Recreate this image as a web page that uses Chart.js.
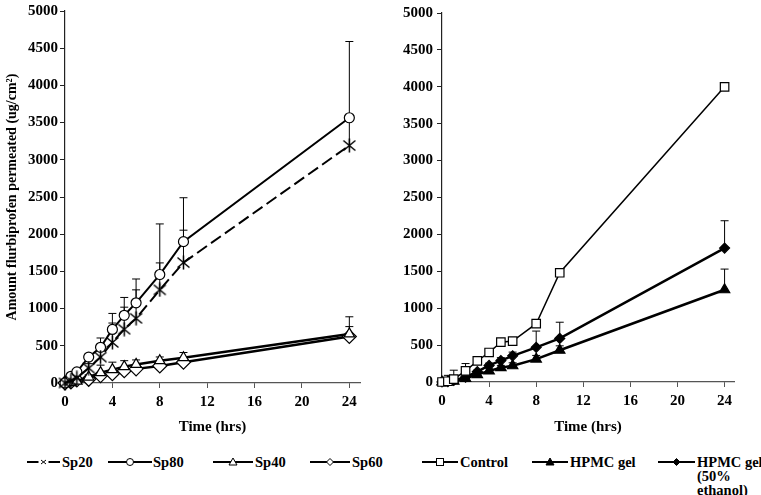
<!DOCTYPE html>
<html>
<head>
<meta charset="utf-8">
<script src="https://cdn.jsdelivr.net/npm/chart.js@4/dist/chart.umd.min.js"></script>
<style>
  body { margin: 0; background: #fff; }
  #wrap { position: relative; width: 761px; height: 495px; font-family: 'Liberation Serif', 'Times New Roman', serif; font-weight: bold; font-size: 14.5px; color: #000; }
  canvas { position: absolute; top: 0; }
  .lg { position: absolute; line-height: 14px; white-space: nowrap; }
  #legend svg { position: absolute; }
</style>
</head>
<body>
<div id="wrap">
  <canvas id="left" width="380" height="440" style="left:0"></canvas>
  <canvas id="right" width="381" height="440" style="left:380px"></canvas>
  <div id="legend"></div>
</div>
<script>
// sampling times (hrs)
const times = [0, 0.5, 1, 2, 3, 4, 5, 6, 8, 10, 24];
const xTicks = [0, 4, 8, 12, 16, 20, 24];

// left panel: surfactant formulations
const sp20 = [0, 30, 70, 200, 348, 546, 723, 869, 1252, 1618, 3192];
const sp20Err = [0, 0, 20, 60, 150, 260, 296, 383, 362, 436, 380];
const sp80 = [0, 90, 150, 348, 480, 720, 910, 1078, 1458, 1900, 3565];
const sp80Err = [0, 0, 20, 50, 125, 215, 240, 320, 680, 590, 1025];
const sp40 = [0, 5, 25, 80, 140, 180, 220, 250, 300, 340, 660];
const sp40Err = [0, 0, 10, 30, 100, 100, 80, 60, 50, 70, 230];
const sp60 = [0, 15, 40, 50, 100, 125, 165, 190, 230, 280, 625];
const sp60Err = [0, 0, 0, 10, 20, 30, 30, 30, 40, 40, 133];

// right panel: control vs gels
const control = [0, 10, 40, 150, 285, 400, 540, 555, 790, 1480, 4000];
const controlErr = [0, 80, 120, 100, 0, 0, 0, 0, 0, 0, 0];
const hpmc = [0, 0, 10, 50, 100, 150, 195, 220, 310, 430, 1250];
const hpmcErr = [0, 0, 0, 10, 20, 30, 30, 40, 50, 60, 280];
const hpmcEth = [0, 5, 20, 65, 140, 225, 290, 355, 470, 590, 1815];
const hpmcEthErr = [0, 0, 0, 10, 20, 30, 40, 50, 220, 220, 370];

const FONT = "'Liberation Serif', 'Times New Roman', serif";

function pts(values) {
  return values.map((v, i) => ({ x: times[i], y: v }));
}

// asterisk-like marker for Sp20
function asterisk() {
  const c = document.createElement('canvas');
  c.width = 15; c.height = 15;
  const g = c.getContext('2d');
  g.strokeStyle = '#000';
  g.lineWidth = 1.5;
  g.beginPath();
  g.moveTo(1.5, 2.5); g.lineTo(13.5, 12.5);
  g.moveTo(13.5, 2.5); g.lineTo(1.5, 12.5);
  g.moveTo(7.5, 0.5); g.lineTo(7.5, 14.5);
  g.stroke();
  return c;
}

const errorBars = {
  id: 'errorBars',
  beforeDatasetsDraw(chart) {
    const ctx = chart.ctx, xs = chart.scales.x, ys = chart.scales.y;
    ctx.save();
    ctx.strokeStyle = '#000';
    ctx.lineWidth = 1;
    chart.data.datasets.forEach(ds => {
      if (!ds.errors) return;
      ds.data.forEach((p, i) => {
        const e = ds.errors[i];
        if (!e) return;
        const x = xs.getPixelForValue(p.x);
        const y0 = ys.getPixelForValue(p.y);
        const y1 = ys.getPixelForValue(p.y + e);
        ctx.beginPath();
        ctx.moveTo(x, y0); ctx.lineTo(x, y1);
        ctx.moveTo(x - 4, y1); ctx.lineTo(x + 4, y1);
        ctx.stroke();
      });
    });
    ctx.restore();
  }
};

function series(values, errors, style, extra) {
  return Object.assign({
    data: pts(values),
    errors: errors,
    showLine: true,
    borderColor: '#000',
    borderWidth: 2,
    pointStyle: style,
    pointBorderColor: '#000',
    pointBorderWidth: 1.2,
    pointBackgroundColor: '#fff',
    pointRadius: 5,
    clip: false
  }, extra || {});
}

function makeChart(id, datasets, opt) {
  new Chart(document.getElementById(id), {
    type: 'scatter',
    data: { datasets: datasets },
    plugins: [errorBars],
    options: {
      responsive: false,
      animation: false,
      layout: { padding: { top: 5, right: opt.padRight, left: 0, bottom: 0 } },
      plugins: { legend: { display: false }, tooltip: { enabled: false } },
      scales: {
        x: {
          type: 'linear', min: 0, max: opt.xMax,
          afterBuildTicks: s => { s.ticks = xTicks.map(v => ({ value: v })); },
          afterFit: s => { s.height = opt.xHeight; },
          grid: { drawOnChartArea: false, tickLength: 5, color: '#555' },
          border: { color: '#555', width: 1.2 },
          ticks: { color: '#000', padding: 5, callback: v => String(v),
                   font: { family: FONT, weight: 'bold', size: 15 } },
          title: { display: true, text: 'Time (hrs)', color: '#000', padding: { top: 4, bottom: 4 },
                   font: { family: FONT, weight: 'bold', size: 15 } }
        },
        y: {
          min: 0, max: 5000,
          ticks: { stepSize: 500, color: '#000', padding: opt.yPad, callback: v => String(v),
                   font: { family: FONT, weight: 'bold', size: 15 } },
          afterFit: s => { s.width = opt.yWidth; },
          grid: { drawOnChartArea: false, tickLength: 5, color: '#222' },
          border: { color: '#222', width: 1.2 },
          title: { display: !!opt.yTitle, text: opt.yTitle, color: '#000', padding: { top: 4, bottom: 2 },
                   font: { family: FONT, weight: 'bold', size: 14 } }
        }
      }
    }
  });
}

makeChart('left', [
  series(sp20, sp20Err, asterisk(), { borderDash: [12, 5] }),
  series(sp80, sp80Err, 'circle'),
  series(sp40, sp40Err, 'triangle', { pointRadius: 6, borderWidth: 2.5 }),
  series(sp60, sp60Err, 'rectRot', { pointRadius: 7, borderWidth: 2.5 })
], { xMax: 24.9, padRight: 20, xHeight: 57, yWidth: 65, yPad: 2,
     yTitle: 'Amount flurbiprofen permeated (ug/cm\u00b2)' });

makeChart('right', [
  series(control, controlErr, 'rect', { borderWidth: 1.5, pointRadius: 6 }),
  series(hpmc, hpmcErr, 'triangle', { pointBackgroundColor: '#000', pointRadius: 6, borderWidth: 2.5 }),
  series(hpmcEth, hpmcEthErr, 'rectRot', { pointBackgroundColor: '#000', pointRadius: 5, borderWidth: 2.5 })
], { xMax: 24.8, padRight: 27, xHeight: 58, yWidth: 62, yPad: 4, yTitle: '' });

// HTML legend
const legendItems = [
  { label: 'Sp20', x1: 27, x2: 60, tx: 62, mark: 'x', dash: true },
  { label: 'Sp80', x1: 108, x2: 152, tx: 153, mark: 'circle' },
  { label: 'Sp40', x1: 213, x2: 253, tx: 255, mark: 'triangle' },
  { label: 'Sp60', x1: 310, x2: 350, tx: 352, mark: 'diamond' },
  { label: 'Control', x1: 422, x2: 458, tx: 460, mark: 'square' },
  { label: 'HPMC gel', x1: 532, x2: 568, tx: 570, mark: 'triangle', fill: true },
  { label: 'HPMC gel<br>(50%<br>ethanol)', x1: 658, x2: 695, tx: 697, mark: 'diamond', fill: true }
];
const legendY = 462;
const lg = document.getElementById('legend');
legendItems.forEach(it => {
  const w = it.x2 - it.x1, c = w / 2, f = it.fill ? '#000' : '#fff';
  let line = it.dash
    ? `<line x1="0" y1="7" x2="${c - 5}" y2="7" stroke="#000" stroke-width="2"/><line x1="${c + 5}" y1="7" x2="${w}" y2="7" stroke="#000" stroke-width="2"/>`
    : `<line x1="0" y1="7" x2="${w}" y2="7" stroke="#000" stroke-width="2"/>`;
  let m = '';
  if (it.mark === 'x') m = `<path d="M${c - 2.5} 5 L${c + 2.5} 9 M${c + 2.5} 5 L${c - 2.5} 9" stroke="#000" stroke-width="1"/>`;
  if (it.mark === 'circle') m = `<circle cx="${c}" cy="7" r="3.5" fill="#fff" stroke="#000" stroke-width="1"/>`;
  if (it.mark === 'triangle') m = `<path d="M${c} 3 L${c + 4} 10 L${c - 4} 10 Z" fill="${f}" stroke="#000" stroke-width="1"/>`;
  if (it.mark === 'diamond') m = `<path d="M${c} 3.5 L${c + 3.5} 7 L${c} 10.5 L${c - 3.5} 7 Z" fill="${f}" stroke="#000" stroke-width="1"/>`;
  if (it.mark === 'square') m = `<rect x="${c - 3.5}" y="3.5" width="7" height="7" fill="#fff" stroke="#000" stroke-width="1"/>`;
  const d = document.createElement('div');
  d.innerHTML = `<svg width="${w}" height="14" style="left:${it.x1}px;top:${legendY - 7}px">${line}${m}</svg>` +
    `<div class="lg" style="left:${it.tx}px;top:${legendY - 7}px">${it.label}</div>`;
  lg.appendChild(d);
});
</script>
</body>
</html>
